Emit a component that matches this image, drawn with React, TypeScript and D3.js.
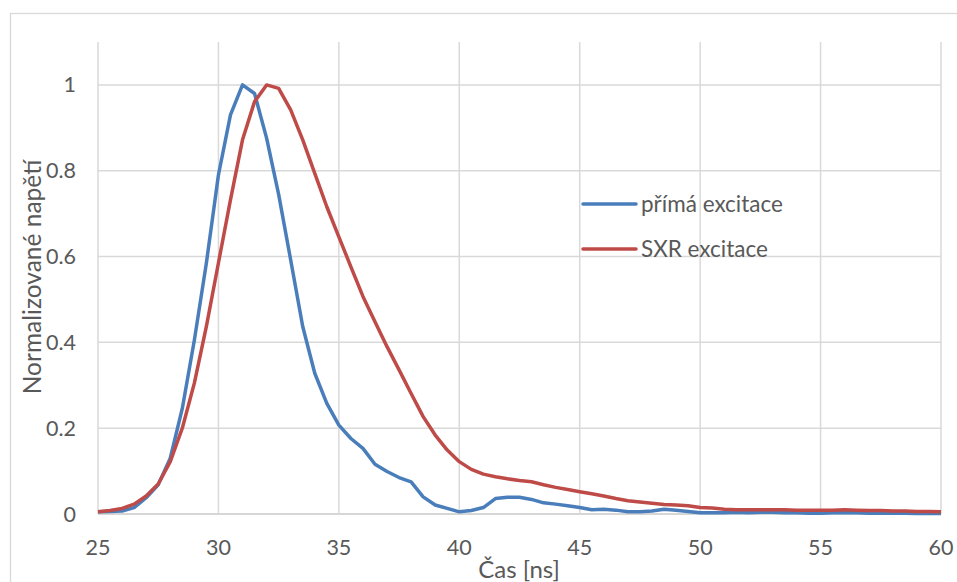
import React from "react";
import * as d3 from "d3";

const timeNs: number[] = [
  25, 25.5, 26, 26.5, 27, 27.5, 28, 28.5, 29, 29.5, 30, 30.5, 31, 31.5, 32, 32.5, 33, 33.5, 34, 34.5,
  35, 35.5, 36, 36.5, 37, 37.5, 38, 38.5, 39, 39.5, 40, 40.5, 41, 41.5, 42, 42.5, 43, 43.5, 44, 44.5,
  45, 45.5, 46, 46.5, 47, 47.5, 48, 48.5, 49, 49.5, 50, 50.5, 51, 51.5, 52, 52.5, 53, 53.5, 54, 54.5,
  55, 55.5, 56, 56.5, 57, 57.5, 58, 58.5, 59, 59.5, 60,
];

const primaExcitace: number[] = [
  0.005, 0.006, 0.007, 0.015, 0.038, 0.068, 0.13, 0.246, 0.405, 0.585, 0.79, 0.93, 1.0, 0.98, 0.876, 0.745, 0.592, 0.437, 0.328, 0.258,
  0.207, 0.176, 0.153, 0.116, 0.099, 0.085, 0.075, 0.04, 0.021, 0.013, 0.005, 0.008, 0.015, 0.036, 0.039, 0.039, 0.034, 0.026, 0.023, 0.019,
  0.015, 0.01, 0.011, 0.009, 0.005, 0.005, 0.007, 0.011, 0.009, 0.006, 0.003, 0.003, 0.003, 0.004, 0.003, 0.004, 0.004, 0.003, 0.003, 0.002,
  0.002, 0.003, 0.003, 0.003, 0.002, 0.002, 0.002, 0.002, 0.001, 0.001, 0.001,
];

const sxrExcitace: number[] = [
  0.005, 0.008, 0.013, 0.023, 0.042, 0.07, 0.122, 0.2, 0.305, 0.437, 0.585, 0.732, 0.872, 0.961, 1.0, 0.992, 0.942, 0.872, 0.794, 0.716,
  0.646, 0.576, 0.507, 0.448, 0.39, 0.336, 0.281, 0.227, 0.184, 0.149, 0.122, 0.104, 0.093, 0.087, 0.082, 0.078, 0.075, 0.068, 0.062, 0.057,
  0.052, 0.047, 0.042, 0.036, 0.031, 0.028, 0.025, 0.022, 0.021, 0.019, 0.015, 0.014, 0.011, 0.01, 0.01, 0.01, 0.01, 0.01, 0.009, 0.009,
  0.009, 0.009, 0.01, 0.009, 0.008, 0.008, 0.007, 0.007, 0.006, 0.006, 0.005,
];

const xTicks: number[] = [25, 30, 35, 40, 45, 50, 55, 60];
const yTicks: number[] = [0, 0.2, 0.4, 0.6, 0.8, 1];
const yTickLabels: string[] = ["0", "0.2", "0.4", "0.6", "0.8", "1"];
const seriesNames: string[] = ["přímá excitace", "SXR excitace"];
const xTitle = "Čas [ns]";
const yTitle = "Normalizované napětí";

const W = 957;
const H = 582;
const FONT = "Lato, 'Open Sans', sans-serif";
const TEXT = "#595959";
const GRID = "#d9d9d9";
const COLORS = ["#4a7ebb", "#be4b48"];

export default function App() {
  const x = d3.scaleLinear().domain([25, 60]).range([98, 941]);
  const y = d3.scaleLinear().domain([0, 1.1]).range([514, 42]);

  const line = d3
    .line<[number, number]>()
    .x((d) => x(d[0]))
    .y((d) => y(d[1]));

  const series = [primaExcitace, sxrExcitace].map((vals) =>
    timeNs.map((t, i) => [t, vals[i]] as [number, number])
  );

  const legendY = [204, 249];

  return (
    <svg
      width={W}
      height={H}
      style={{ position: "absolute", left: 0, top: 0, background: "#fff" }}
      fontFamily={FONT}
    >
      <rect x={0} y={0} width={W} height={H} fill="#fff" />
      <rect x={10.5} y={13.5} width={W + 20} height={H + 20} fill="none" stroke={GRID} strokeWidth={1.3} />

      {yTicks.map((v) => (
        <line
          key={"h" + v}
          x1={x(25)}
          x2={x(60)}
          y1={y(v)}
          y2={y(v)}
          stroke={v === 0 ? "#c8c8c8" : GRID}
          strokeWidth={1.5}
        />
      ))}
      {xTicks.map((t) => (
        <line
          key={"v" + t}
          x1={x(t)}
          x2={x(t)}
          y1={y(1.1)}
          y2={y(0)}
          stroke={GRID}
          strokeWidth={1.5}
        />
      ))}

      {series.map((s, i) => (
        <path
          key={"s" + i}
          d={line(s) || ""}
          fill="none"
          stroke={COLORS[i]}
          strokeWidth={3.5}
          strokeLinejoin="round"
        />
      ))}

      {yTicks.map((v, i) => (
        <text
          key={"yl" + v}
          x={76}
          y={y(v)}
          dy="0.35em"
          textAnchor="end"
          fontSize={21.5}
          fill={TEXT}
        >
          {yTickLabels[i]}
        </text>
      ))}

      {xTicks.map((t) => (
        <text
          key={"xl" + t}
          x={x(t)}
          y={547}
          dy="0.35em"
          textAnchor="middle"
          fontSize={21.5}
          fill={TEXT}
        >
          {t}
        </text>
      ))}

      <text x={519} y={570} dy="0.35em" textAnchor="middle" fontSize={24} fill={TEXT}>
        {xTitle}
      </text>
      <text
        transform={`translate(32,277) rotate(-90)`}
        dy="0.35em"
        textAnchor="middle"
        fontSize={24.5}
        fill={TEXT}
      >
        {yTitle}
      </text>

      {seriesNames.map((n, i) => (
        <g key={"lg" + i}>
          <line
            x1={583}
            x2={636}
            y1={legendY[i]}
            y2={legendY[i]}
            stroke={COLORS[i]}
            strokeWidth={3.5}
            strokeLinecap="round"
          />
          <text x={641} y={legendY[i]} dy="0.35em" fontSize={22.5} fill={TEXT}>
            {n}
          </text>
        </g>
      ))}
    </svg>
  );
}
